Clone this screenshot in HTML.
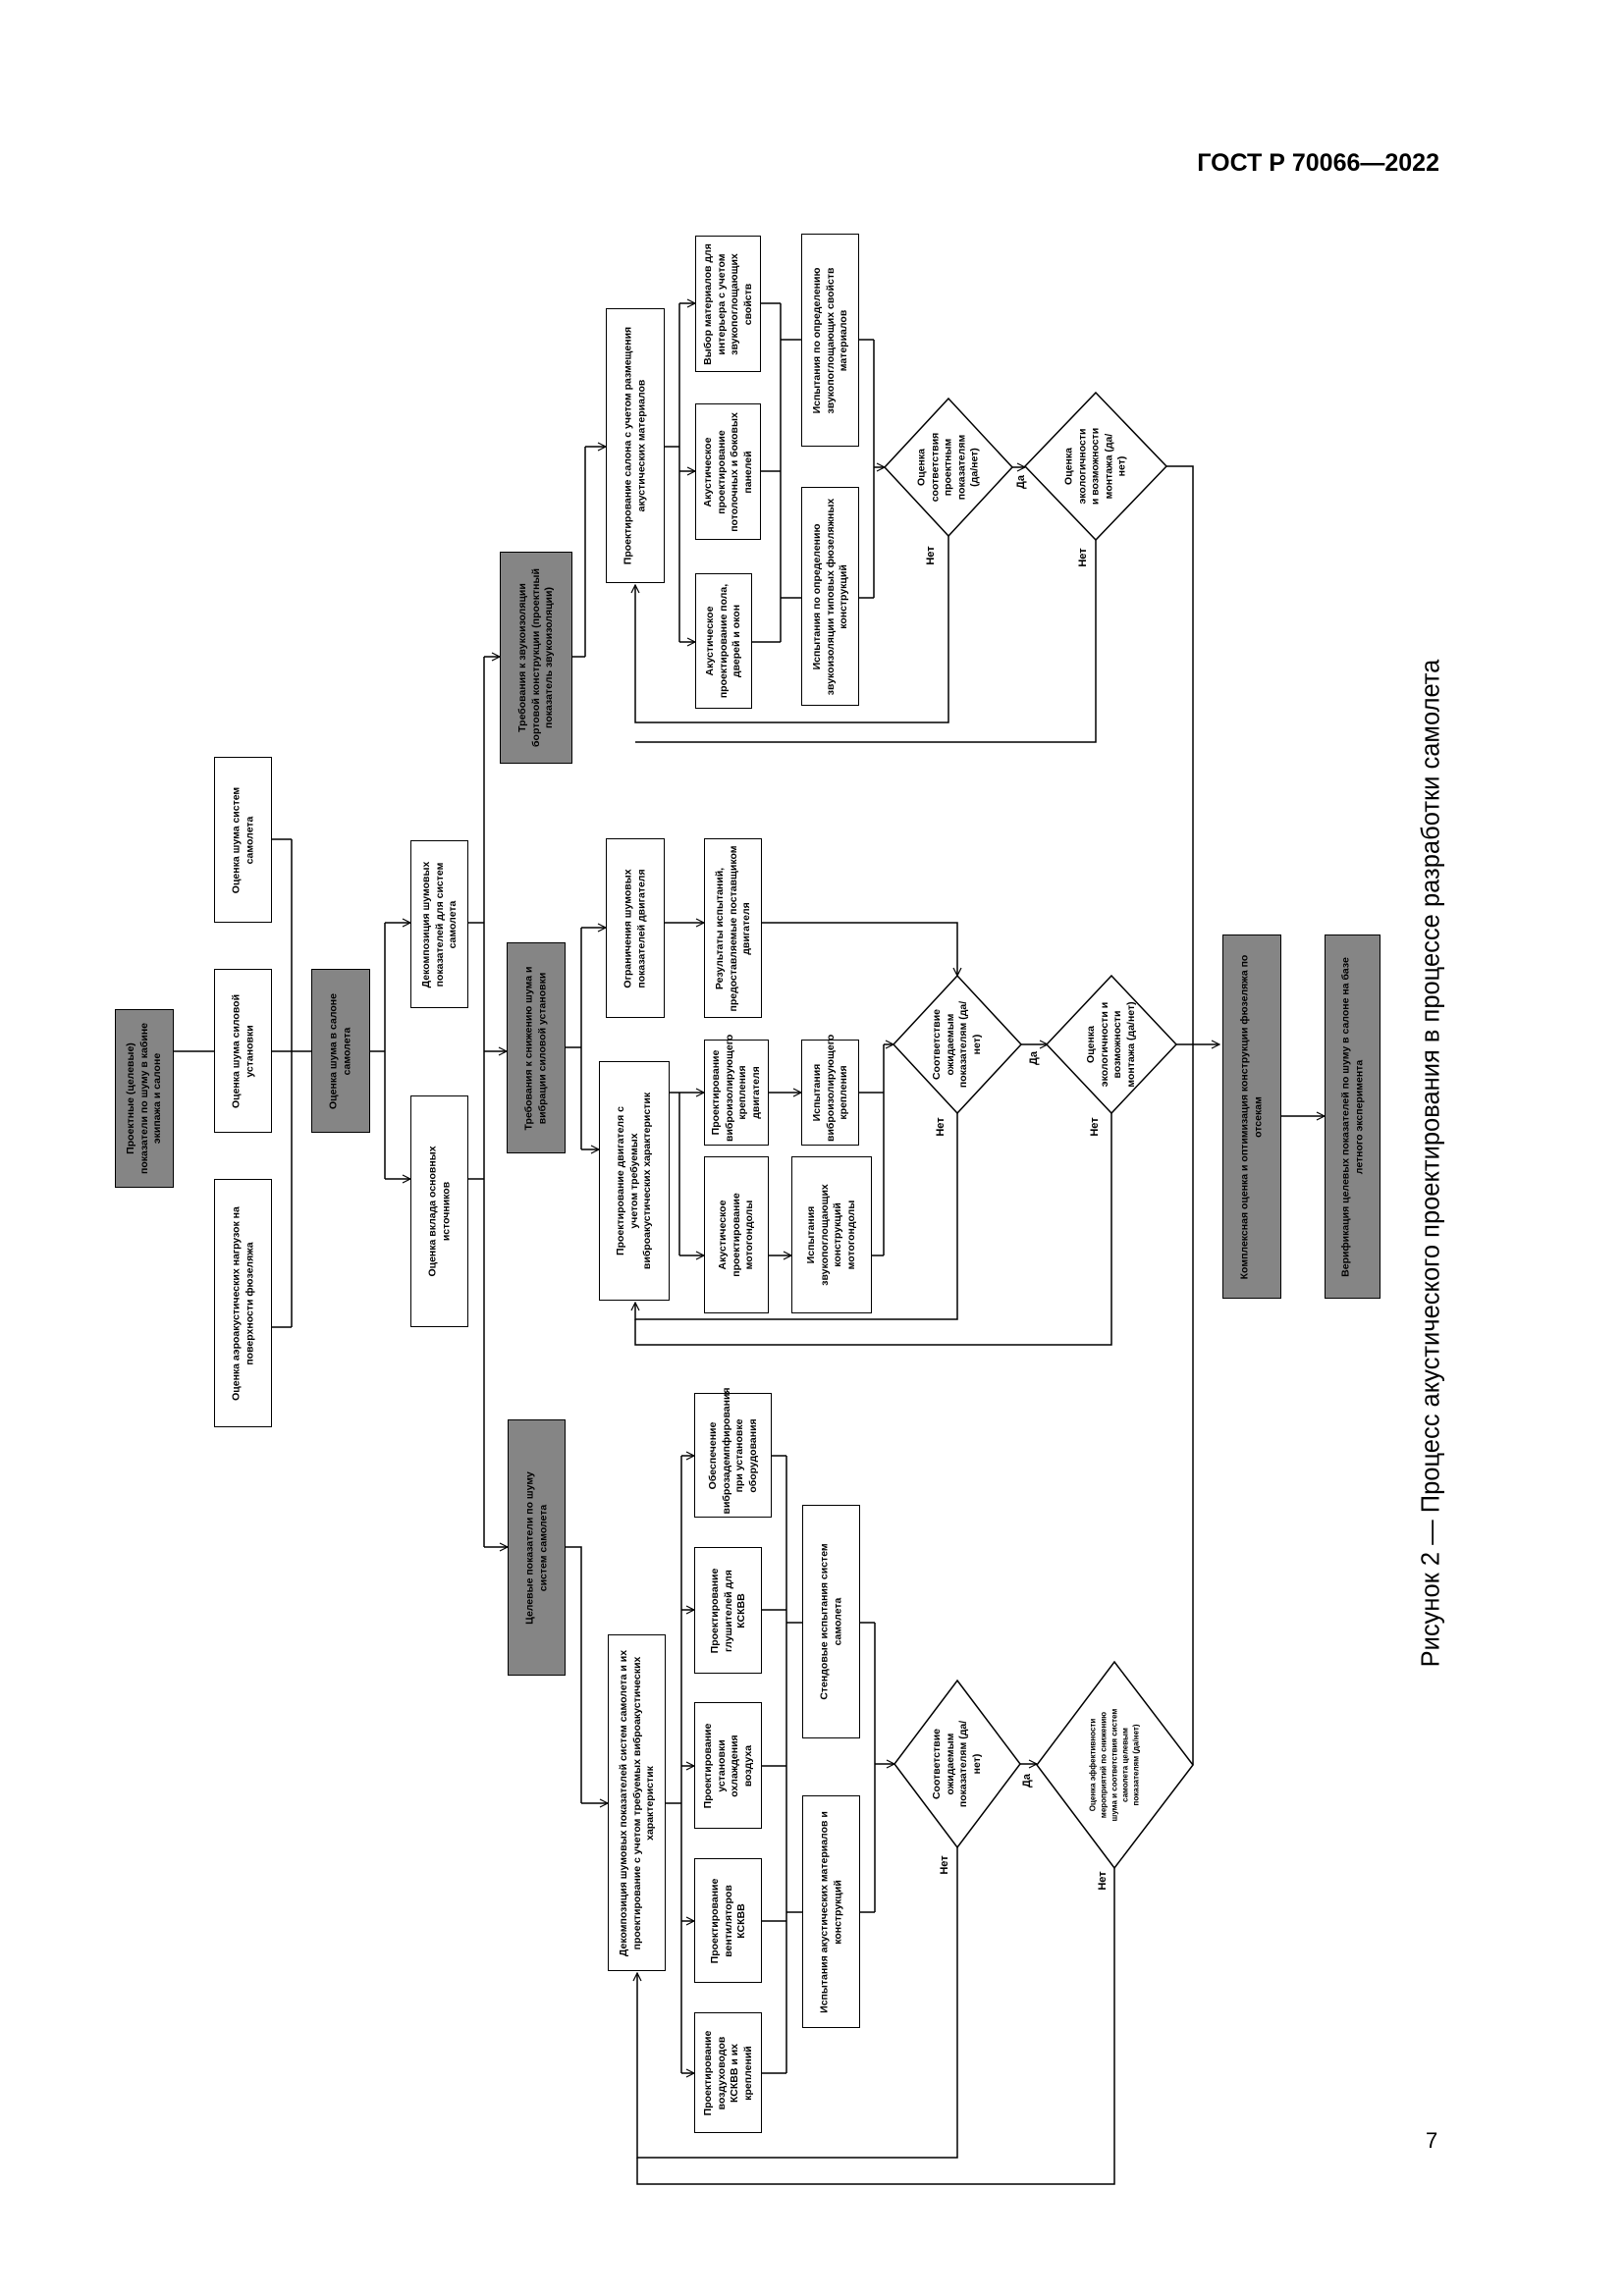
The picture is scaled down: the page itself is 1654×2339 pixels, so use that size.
<!DOCTYPE html>
<html><head><meta charset="utf-8"><style>
html,body{margin:0;padding:0;background:#fff}
body{width:1654px;height:2339px;position:relative;overflow:hidden;font-family:"Liberation Sans",sans-serif}
.b{position:absolute;border:1.5px solid #000;background:#fff;box-sizing:border-box}
.g{background:#858585}
.t{position:absolute;left:50%;top:50%;transform:translate(-50%,-50%) rotate(-90deg);text-align:center;font:bold 10.5px/13.5px "Liberation Sans",sans-serif;color:#000}
.c{position:absolute;width:0;height:0}
.l{position:absolute;font:bold 11px "Liberation Sans",sans-serif;transform:translate(-50%,-50%) rotate(-90deg)}
svg{position:absolute;left:0;top:0}
</style></head><body>
<div style="position:absolute;right:188px;top:152px;font:bold 25px 'Liberation Sans',sans-serif">ГОСТ Р 70066—2022</div>
<div style="position:absolute;left:1458px;top:1185px;transform:translate(-50%,-50%) rotate(-90deg);white-space:nowrap;font:25.5px 'Liberation Sans',sans-serif">Рисунок 2 — Процесс акустического проектирования в процессе разработки самолета</div>
<div style="position:absolute;left:1452px;top:2168px;font:22px 'Liberation Sans',sans-serif">7</div>

<svg width="1654" height="2339" viewBox="0 0 1654 2339">
<defs><marker id="a" markerWidth="10" markerHeight="10" refX="9" refY="5" orient="auto" markerUnits="userSpaceOnUse"><path d="M1,1 L9,5 L1,9" fill="none" stroke="#000" stroke-width="1.2"/></marker></defs>
<g stroke="#000" stroke-width="1.5" fill="none">
<path d="M177,1071H218"/>
<path d="M277,855H297M277,1071H297M277,1352H297M297,855V1352M297,1071H317"/>
<path d="M377,1071H392M392,940V1201"/>
<path d="M392,940H418" marker-end="url(#a)"/><path d="M392,1201H418" marker-end="url(#a)"/>
<path d="M477,940H493M477,1201H493M493,669V1576"/>
<path d="M493,669H509" marker-end="url(#a)"/><path d="M493,1071H516" marker-end="url(#a)"/><path d="M493,1576H517" marker-end="url(#a)"/>
<path d="M583,669H596M596,455V669"/><path d="M596,455H617" marker-end="url(#a)"/>
<path d="M677,455H692M692,309V654"/>
<path d="M692,309H708" marker-end="url(#a)"/><path d="M692,480H708" marker-end="url(#a)"/><path d="M692,654H708" marker-end="url(#a)"/>
<path d="M775,309H795M775,480H795M766,654H795M795,309V654M795,346H816M795,609H816"/>
<path d="M875,346H890M875,609H890M890,346V609"/><path d="M890,476H901" marker-end="url(#a)"/>
<path d="M1031,476H1044" marker-end="url(#a)"/>
<path d="M1188,475H1215V1798"/>
<path d="M966,546V736H647V596" marker-end="url(#a)"/>
<path d="M1116,550V756H647"/>
<path d="M576,1067H592M592,945V1171"/><path d="M592,945H617" marker-end="url(#a)"/><path d="M592,1171H610" marker-end="url(#a)"/>
<path d="M677,940H717" marker-end="url(#a)"/>
<path d="M776,940H975V994" marker-end="url(#a)"/>
<path d="M682,1113H692M692,1113V1279"/><path d="M692,1113H717" marker-end="url(#a)"/><path d="M692,1279H717" marker-end="url(#a)"/>
<path d="M783,1113H816" marker-end="url(#a)"/><path d="M783,1279H806" marker-end="url(#a)"/>
<path d="M875,1113H900M888,1279H900M900,1064V1279"/><path d="M900,1064H910" marker-end="url(#a)"/>
<path d="M1040,1064H1067" marker-end="url(#a)"/>
<path d="M1198,1064H1242" marker-end="url(#a)"/>
<path d="M975,1134V1344H647V1327" marker-end="url(#a)"/>
<path d="M1132,1134V1370H647V1344"/>
<path d="M576,1576H592V1837"/><path d="M592,1837H619" marker-end="url(#a)"/>
<path d="M678,1837H694M694,1483V2112"/>
<path d="M694,1483H707" marker-end="url(#a)"/><path d="M694,1640H707" marker-end="url(#a)"/><path d="M694,1799H707" marker-end="url(#a)"/><path d="M694,1957H707" marker-end="url(#a)"/><path d="M694,2112H707" marker-end="url(#a)"/>
<path d="M786,1483H801M776,1640H801M776,1799H801M776,1957H801M776,2112H801M801,1483V2112M801,1653H817M801,1948H817"/>
<path d="M876,1653H891M876,1948H891M891,1653V1948"/><path d="M891,1797H911" marker-end="url(#a)"/>
<path d="M1039,1797H1056" marker-end="url(#a)"/>
<path d="M975,1882V2198H649V2010" marker-end="url(#a)"/>
<path d="M1135,1903V2225H649V2198"/>
<path d="M1305,1137H1349" marker-end="url(#a)"/>
<polygon points="966,406 1031,476 966,546 901,476" fill="#fff"/>
<polygon points="1116,400 1188,475 1116,550 1044,475" fill="#fff"/>
<polygon points="975,994 1040,1064 975,1134 910,1064" fill="#fff"/>
<polygon points="1132,994 1198,1064 1132,1134 1066,1064" fill="#fff"/>
<polygon points="975,1712 1039,1797 975,1882 911,1797" fill="#fff"/>
<polygon points="1135,1693 1215,1798 1135,1903 1056,1798" fill="#fff"/>
</g></svg>

<div class="b g" style="left:117px;top:1028px;width:60px;height:182px"><div class="t" style="width:174px">Проектные (целевые) показатели по шуму в кабине экипажа и салоне</div></div>
<div class="b" style="left:218px;top:771px;width:59px;height:169px"><div class="t" style="width:150px">Оценка шума систем самолета</div></div>
<div class="b" style="left:218px;top:987px;width:59px;height:167px"><div class="t" style="width:150px">Оценка шума силовой установки</div></div>
<div class="b" style="left:218px;top:1201px;width:59px;height:253px"><div class="t" style="width:200px">Оценка аэроакустических нагрузок на поверхности фюзеляжа</div></div>
<div class="b g" style="left:317px;top:987px;width:60px;height:167px"><div class="t" style="width:150px">Оценка шума в салоне самолета</div></div>
<div class="b" style="left:418px;top:856px;width:59px;height:171px"><div class="t" style="width:163px">Декомпозиция шумовых показателей для систем самолета</div></div>
<div class="b" style="left:418px;top:1116px;width:59px;height:236px"><div class="t" style="width:170px">Оценка вклада основных источников</div></div>
<div class="b g" style="left:509px;top:562px;width:74px;height:216px"><div class="t" style="width:200px">Требования к звукоизоляции бортовой конструкции (проектный показатель звукоизоляции)</div></div>
<div class="b g" style="left:516px;top:960px;width:60px;height:215px"><div class="t" style="width:200px">Требования к снижению шума и вибрации силовой установки</div></div>
<div class="b g" style="left:517px;top:1446px;width:59px;height:261px"><div class="t" style="width:190px">Целевые показатели по шуму систем самолета</div></div>

<div class="b" style="left:617px;top:314px;width:60px;height:280px"><div class="t" style="width:250px">Проектирование салона с учетом размещения акустических материалов</div></div>
<div class="b" style="left:708px;top:240px;width:67px;height:139px"><div class="t" style="width:131px">Выбор материалов для интерьера с учетом звукопоглощающих свойств</div></div>
<div class="b" style="left:708px;top:411px;width:67px;height:139px"><div class="t" style="width:125px">Акустическое проектирование потолочных и боковых панелей</div></div>
<div class="b" style="left:708px;top:584px;width:58px;height:138px"><div class="t" style="width:128px">Акустическое проектирование пола, дверей и окон</div></div>
<div class="b" style="left:816px;top:238px;width:59px;height:217px"><div class="t" style="width:209px">Испытания по определению звукопоглощающих свойств материалов</div></div>
<div class="b" style="left:816px;top:496px;width:59px;height:223px"><div class="t" style="width:215px">Испытания по определению звукоизоляции типовых фюзеляжных конструкций</div></div>

<div class="b" style="left:617px;top:854px;width:60px;height:183px"><div class="t" style="width:175px">Ограничения шумовых показателей двигателя</div></div>
<div class="b" style="left:717px;top:854px;width:59px;height:183px"><div class="t" style="width:175px">Результаты испытаний, предоставляемые поставщиком двигателя</div></div>
<div class="b" style="left:610px;top:1081px;width:72px;height:244px"><div class="t" style="width:190px">Проектирование двигателя с учетом требуемых виброакустических характеристик</div></div>
<div class="b" style="left:717px;top:1059px;width:66px;height:108px"><div class="t" style="width:100px">Проектирование виброизолирующего крепления двигателя</div></div>
<div class="b" style="left:717px;top:1178px;width:66px;height:160px"><div class="t" style="width:100px">Акустическое проектирование мотогондолы</div></div>
<div class="b" style="left:816px;top:1059px;width:59px;height:108px"><div class="t" style="width:100px">Испытания виброизолирующего крепления</div></div>
<div class="b" style="left:806px;top:1178px;width:82px;height:160px"><div class="t" style="width:110px">Испытания звукопоглощающих конструкций мотогондолы</div></div>

<div class="b" style="left:619px;top:1665px;width:59px;height:343px"><div class="t" style="width:335px">Декомпозиция шумовых показателей систем самолета и их проектирование с учетом требуемых виброакустических характеристик</div></div>
<div class="b" style="left:707px;top:1419px;width:79px;height:127px"><div class="t" style="width:119px">Обеспечение виброзадемпфирования при установке оборудования</div></div>
<div class="b" style="left:707px;top:1576px;width:69px;height:129px"><div class="t" style="width:115px">Проектирование глушителей для КСКВВ</div></div>
<div class="b" style="left:707px;top:1734px;width:69px;height:129px"><div class="t" style="width:100px">Проектирование установки охлаждения воздуха</div></div>
<div class="b" style="left:707px;top:1893px;width:69px;height:127px"><div class="t" style="width:105px">Проектирование вентиляторов КСКВВ</div></div>
<div class="b" style="left:707px;top:2050px;width:69px;height:123px"><div class="t" style="width:110px">Проектирование воздуховодов КСКВВ и их креплений</div></div>
<div class="b" style="left:817px;top:1533px;width:59px;height:238px"><div class="t" style="width:200px">Стендовые испытания систем самолета</div></div>
<div class="b" style="left:817px;top:1829px;width:59px;height:237px"><div class="t" style="width:229px">Испытания акустических материалов и конструкций</div></div>

<div class="b g" style="left:1245px;top:952px;width:60px;height:371px"><div class="t" style="width:340px">Комплексная оценка и оптимизация конструкции фюзеляжа по отсекам</div></div>
<div class="b g" style="left:1349px;top:952px;width:57px;height:371px"><div class="t" style="width:340px">Верификация целевых показателей по шуму в салоне на базе летного эксперимента</div></div>

<div class="c" style="left:966px;top:476px"><div class="t" style="width:80px">Оценка соответствия проектным показателям (да/нет)</div></div>
<div class="c" style="left:1116px;top:475px"><div class="t" style="width:80px">Оценка экологичности и возможности монтажа (да/нет)</div></div>
<div class="c" style="left:975px;top:1064px"><div class="t" style="width:90px">Соответствие ожидаемым показателям (да/нет)</div></div>
<div class="c" style="left:1132px;top:1064px"><div class="t" style="width:95px">Оценка экологичности и возможности монтажа (да/нет)</div></div>
<div class="c" style="left:975px;top:1797px"><div class="t" style="width:100px">Соответствие ожидаемым показателям (да/нет)</div></div>
<div class="c" style="left:1135px;top:1798px"><div class="t" style="width:120px;font-size:8px;line-height:11px">Оценка эффективности мероприятий по снижению шума и соответствия систем самолета целевым показателям (да/нет)</div></div>

<div class="l" style="left:948px;top:566px">Нет</div>
<div class="l" style="left:1103px;top:568px">Нет</div>
<div class="l" style="left:1040px;top:491px">Да</div>
<div class="l" style="left:958px;top:1148px">Нет</div>
<div class="l" style="left:1115px;top:1148px">Нет</div>
<div class="l" style="left:1053px;top:1078px">Да</div>
<div class="l" style="left:962px;top:1900px">Нет</div>
<div class="l" style="left:1123px;top:1916px">Нет</div>
<div class="l" style="left:1046px;top:1814px">Да</div>
</body></html>
